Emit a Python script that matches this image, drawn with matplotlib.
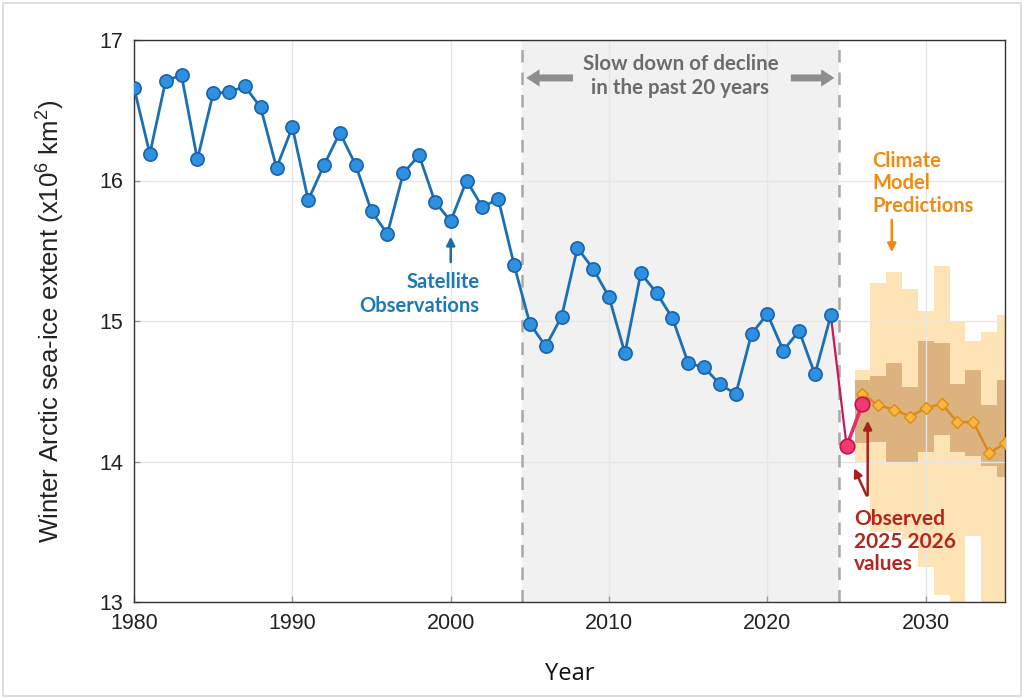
import matplotlib
matplotlib.use("Agg")
import matplotlib.pyplot as plt
from matplotlib.patches import Rectangle
import numpy as np

plt.rcParams['mathtext.fontset'] = 'custom'
plt.rcParams['mathtext.rm'] = 'Liberation Sans'

# ---- data ----
obs_years = list(range(1980, 2025))
obs_extent = [16.66, 16.19, 16.71, 16.75, 16.15, 16.62, 16.63, 16.67, 16.52, 16.09,
              16.38, 15.86, 16.11, 16.34, 16.11, 15.78, 15.62, 16.05, 16.18, 15.85,
              15.71, 16.00, 15.81, 15.87, 15.40, 14.98, 14.82, 15.03, 15.52, 15.37,
              15.17, 14.77, 15.34, 15.20, 15.02, 14.70, 14.67, 14.55, 14.48, 14.91,
              15.05, 14.79, 14.93, 14.62, 15.04]

new_years = [2025, 2026]
new_extent = [14.11, 14.41]

model_years = list(range(2026, 2036))
model_mean = [14.48, 14.40, 14.37, 14.32, 14.38, 14.41, 14.28, 14.28, 14.06, 14.13]
inner_hi = [14.58, 14.61, 14.70, 14.53, 14.86, 14.84, 14.55, 14.65, 14.40, 14.58]
inner_lo = [14.13, 14.14, 14.00, 14.00, 14.07, 14.19, 14.07, 14.04, 13.97, 13.89]
outer_hi = [14.65, 15.27, 15.35, 15.23, 15.07, 15.39, 15.00, 14.86, 14.92, 15.04]
outer_lo = [14.00, 13.50, 13.50, 13.45, 13.25, 13.05, 12.90, 13.47, 12.90, 12.90]

xticks = [1980, 1990, 2000, 2010, 2020, 2030]
yticks = [13, 14, 15, 16, 17]

# ---- figure ----
fig = plt.figure(figsize=(10.24, 6.99), dpi=100)
ax = fig.add_axes([134/1024, 1 - 602/699, (1005 - 134)/1024, (602 - 40)/699])

fig.patches.append(Rectangle((0.003, 0.004), 0.994, 0.992, transform=fig.transFigure,
                             fill=False, edgecolor='#d8d8d8', lw=1.2))

ax.set_xlim(1980, 2035)
ax.set_ylim(13, 17)
ax.set_axisbelow(True)
ax.grid(True, color='#e6e6e6', lw=1.0)

# shaded slow-down period
ax.axvspan(2004.5, 2024.5, color='#f1f1f1', zorder=0.2, lw=0)
for xv in (2004.5, 2024.5):
    ax.axvline(xv, color='#a8a8a8', lw=1.8, dashes=(5, 4), zorder=0.6)

# model ranges
yrs = np.array(model_years)
ax.bar(yrs, np.array(outer_hi) - np.array(outer_lo), bottom=outer_lo, width=1.0,
       color='#fde3b5', lw=0, zorder=0.3)
ax.bar(yrs, np.array(inner_hi) - np.array(inner_lo), bottom=inner_lo, width=1.0,
       color='#dcb37e', lw=0, zorder=0.35)

# model mean
ax.plot(model_years, model_mean, color='#d98a1f', lw=1.8, marker='D', ms=6.5,
        mfc='#f7b73f', mec='#e08b12', mew=1.0, zorder=3)

# observations
ax.plot(obs_years, obs_extent, color='#1b6fb3', lw=2.0, marker='o', ms=9.5,
        mfc='#2e90e0', mec='#1a62a8', mew=1.2, zorder=4)

# 2024 -> 2025 connection
ax.plot([obs_years[-1], new_years[0]], [obs_extent[-1], new_extent[0]],
        color='#c8175d', lw=1.6, zorder=3.5)
ax.plot(new_years, new_extent, color='#e3306a', lw=2.6, marker='o', ms=10.5,
        mfc='#f23a72', mec='#c4124e', mew=1.2, zorder=5)

# ticks
ax.set_xticks(xticks)
ax.set_yticks(yticks)
ax.tick_params(direction='in', length=4, color='#999999', width=1,
               labelsize=15.5, pad=8)
for lab in ax.get_xticklabels() + ax.get_yticklabels():
    lab.set_fontfamily('Liberation Sans')
    lab.set_color('#222222')
for sp in ax.spines.values():
    sp.set_color('#333333')
    sp.set_linewidth(1.0)

ax.set_xlabel('Year', fontsize=17, family='Open Sans', labelpad=20, color='#111111')
ax.set_ylabel('Winter Arctic sea-ice extent (x10$^6$ km$^2$)', fontsize=18.5,
              family='Liberation Sans', labelpad=24, color='#222222')

ann_font = 'Lato'

# Slow down annotation
ax.text(2014.5, 16.745, 'Slow down of decline\nin the past 20 years', ha='center',
        va='center', fontsize=14.8, fontweight='bold', family=ann_font,
        color='#6b6b6b', linespacing=1.22)
arr_gray = dict(arrowstyle='simple,head_length=0.95,head_width=1.25,tail_width=0.5',
                color='#8e8e8e', lw=0)
ax.annotate('', xy=(2004.6, 16.73), xytext=(2007.9, 16.73), arrowprops=arr_gray)
ax.annotate('', xy=(2024.4, 16.73), xytext=(2021.3, 16.73), arrowprops=arr_gray)

# Satellite observations
ax.text(2001.8, 15.19, 'Satellite\nObservations', ha='right', va='center',
        fontsize=14.5, fontweight='bold', family=ann_font, color='#1a7ab8',
        linespacing=1.25)
ax.annotate('', xy=(2000, 15.62), xytext=(2000, 15.40),
            arrowprops=dict(arrowstyle='-|>,head_length=0.5,head_width=0.25',
                            color='#1a6fa8', lw=1.8))

# Climate model predictions
ax.text(2026.6, 15.98, 'Climate\nModel\nPredictions', ha='left', va='center',
        fontsize=14.5, fontweight='bold', family=ann_font, color='#ef8a12',
        linespacing=1.17)
ax.annotate('', xy=(2027.85, 15.47), xytext=(2027.85, 15.74),
            arrowprops=dict(arrowstyle='-|>,head_length=0.5,head_width=0.25',
                            color='#ef8a12', lw=1.8))

# Observed 2025 2026
ax.text(2025.45, 13.43, 'Observed\n2025 2026\nvalues', ha='left', va='center',
        fontsize=15, fontweight='bold', family=ann_font, color='#b3261e',
        linespacing=1.17)
arr_red = dict(arrowstyle='-|>,head_length=0.5,head_width=0.25', color='#a8201a', lw=1.8)
ax.annotate('', xy=(2026.33, 14.31), xytext=(2026.33, 13.74), arrowprops=arr_red)
ax.annotate('', xy=(2025.4, 13.97), xytext=(2026.33, 13.74), arrowprops=arr_red)

fig.savefig('out.png', dpi=100)
